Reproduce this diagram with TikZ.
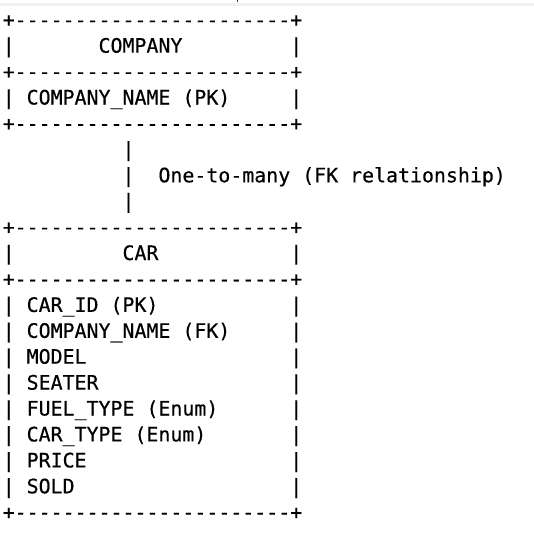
\documentclass[tikz,border=0pt]{standalone}
\usepackage{fontspec}
\setmonofont{DejaVu Sans Mono}[FakeBold=0.4]
\usetikzlibrary{positioning}

\newcommand{\border}{+-----------------------+}

\begin{document}
\begin{tikzpicture}[%
	x=1pt, y=-1pt,
	row/.style={anchor=base west, inner sep=0pt,
		font=\ttfamily\fontsize{19.9}{26}\selectfont},
	strip/.style={fill=black!6, draw=none}
	]
	\useasboundingbox (0,0) rectangle (534,541);
	\fill[strip] (0,3.3) rectangle (534,6);
	\fill[black!80] (237,0) rectangle (238.4,2);
	
	% COMPANY table
	\node[row] (c0) at (2.5,26.8) {\border};
	\node[row] (c1) at (2.5,52.7) {|~~~~~~~COMPANY~~~~~~~~~|};
	\node[row] (c2) at (2.5,78.6) {\border};
	\node[row] (c3) at (2.5,104.5) {|~COMPANY\_NAME~(PK)~~~~~|};
	\node[row] (c4) at (2.5,130.4) {\border};
	
	% relationship
	\node[row] (l0) at (2.5,156.4) {~~~~~~~~~~|};
	\node[row] (l1) at (2.5,182.3) {~~~~~~~~~~|~~One-to-many (FK relationship)};
	\node[row] (l2) at (2.5,208.2) {~~~~~~~~~~|};
	
	% CAR table
	\node[row] (t0) at (2.5,234.1) {\border};
	\node[row] (t1) at (2.5,260.0) {|~~~~~~~~~CAR~~~~~~~~~~~|};
	\node[row] (t2) at (2.5,285.9) {\border};
	\node[row] (f1) at (2.5,311.9) {|~CAR\_ID~(PK)~~~~~~~~~~~|};
	\node[row] (f2) at (2.5,337.8) {|~COMPANY\_NAME~(FK)~~~~~|};
	\node[row] (f3) at (2.5,363.7) {|~MODEL~~~~~~~~~~~~~~~~~|};
	\node[row] (f4) at (2.5,389.6) {|~SEATER~~~~~~~~~~~~~~~~|};
	\node[row] (f5) at (2.5,415.5) {|~FUEL\_TYPE~(Enum)~~~~~~|};
	\node[row] (f6) at (2.5,441.4) {|~CAR\_TYPE~(Enum)~~~~~~~|};
	\node[row] (f7) at (2.5,467.4) {|~PRICE~~~~~~~~~~~~~~~~~|};
	\node[row] (f8) at (2.5,493.3) {|~SOLD~~~~~~~~~~~~~~~~~~|};
	\node[row] (t3) at (2.5,519.2) {\border};
\end{tikzpicture}
\end{document}
